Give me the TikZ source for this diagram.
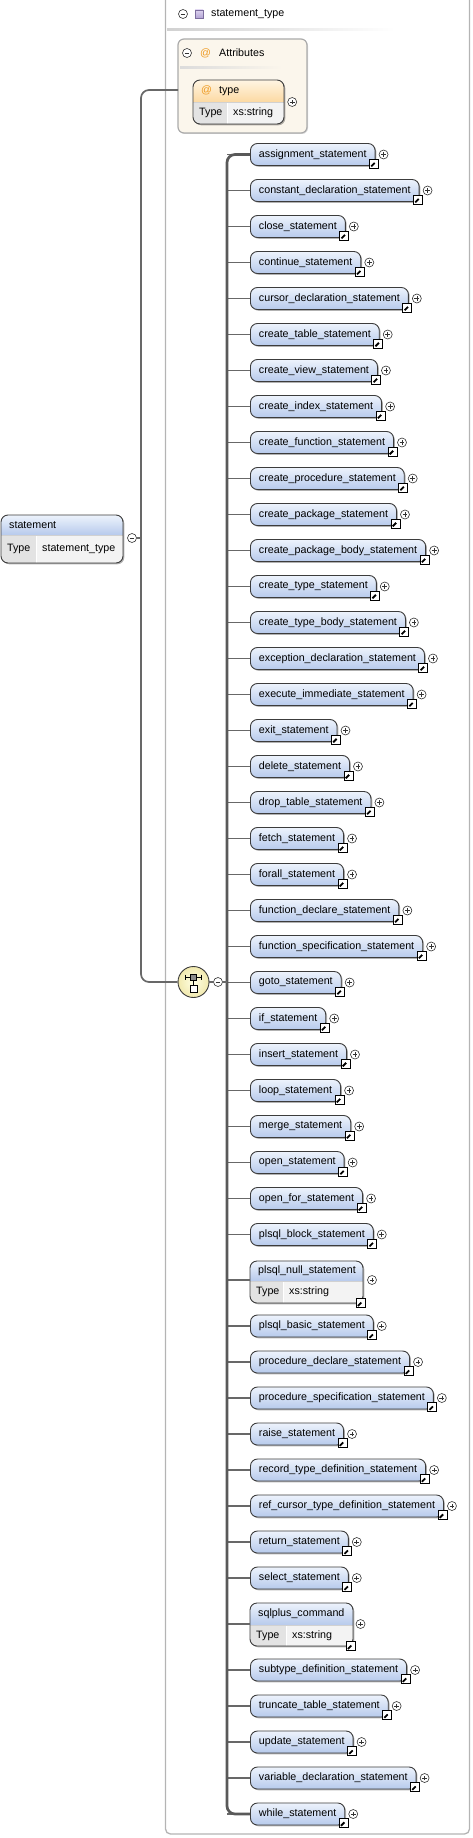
\documentclass[tikz,border=0pt]{standalone}
\usepackage{fontspec}
\setmainfont{Liberation Sans}
\usetikzlibrary{shadows,calc,fit}
\definecolor{elTop}{HTML}{EDF3FC}
\definecolor{elBot}{HTML}{B7CAEC}
\definecolor{edgeC}{HTML}{3C3C3C}
\definecolor{lineC}{HTML}{686868}
\definecolor{barC}{HTML}{595959}
\definecolor{typeCell}{HTML}{E3E3E3}
\definecolor{valCell}{HTML}{F3F3F3}
\definecolor{attrFill}{HTML}{FBF6EC}
\definecolor{attrEdge}{HTML}{ABABAB}
\definecolor{orTop}{HTML}{FFF5E3}
\definecolor{orBot}{HTML}{FCD9A2}
\definecolor{atC}{HTML}{EE9A22}
\definecolor{frameC}{HTML}{B4B4B4}
\definecolor{compIn}{HTML}{FFFFE4}
\definecolor{compOut}{HTML}{F1E9AE}
\definecolor{purTop}{HTML}{DDD3EF}
\definecolor{purBot}{HTML}{B3A4D4}
\definecolor{purEdge}{HTML}{7D6E9E}

\newcommand\dfont{\fontsize{10.7}{12.8}\selectfont}
\newcommand\hdtop{elTop}
\newcommand\hdbot{elBot}

\tikzset{
  elem/.style={anchor=west, draw=edgeC, line width=0.9pt, rounded corners=7pt,
    top color=elTop, bottom color=elBot, minimum height=22pt, inner xsep=8.5pt,
    inner ysep=0pt, drop shadow={shadow xshift=1.3pt, shadow yshift=-1.3pt, fill=black, opacity=0.3}},
  conn/.style={draw=lineC, line width=1.7pt},
  barline/.style={draw=barC, line width=2.7pt},
  pm/.style={circle, draw=black!80, fill=white, minimum size=9pt, inner sep=0pt, line width=0.6pt},
  pmplus/.style={pm, path picture={\draw[line width=0.6pt]
      ([xshift=-2.4pt]path picture bounding box.center) -- ([xshift=2.4pt]path picture bounding box.center)
      ([yshift=-2.4pt]path picture bounding box.center) -- ([yshift=2.4pt]path picture bounding box.center);}},
  pmminus/.style={pm, path picture={\draw[line width=0.6pt]
      ([xshift=-2.4pt]path picture bounding box.center) -- ([xshift=2.4pt]path picture bounding box.center);}},
  shortc/.style={rectangle, draw=black, fill=white, line width=0.9pt, minimum size=9pt, inner sep=0pt,
    path picture={
      \draw[line width=1.8pt] ([shift={(-2.8pt,-2.8pt)}]path picture bounding box.center) -- ([shift={(0.8pt,0.8pt)}]path picture bounding box.center);
      \fill ([shift={(3.2pt,3.2pt)}]path picture bounding box.center) -- ([shift={(-1.6pt,3.2pt)}]path picture bounding box.center) -- ([shift={(3.2pt,-1.6pt)}]path picture bounding box.center) -- cycle;}},
  txt/.style={inner sep=0pt, anchor=west},
}

\newcommand\child[3]{%
  \node[elem] (#1) at (250,#2) {#3};
  \node[pmplus] (#1-p) at ($(#1.east)+(8,0)$) {};
  \node[shortc] (#1-s) at ($(#1.east)+(-1.5,9)$) {};
  \draw[conn] (#1.west) -- (#1.west -| barx);
}

% #1 name, #2 left, #3 right, #4 top, #5 divider y, #6 bottom, #7 divider x, #8 title, #9 value
\newcommand\tworow[9]{%
  \fill[black, opacity=0.3, rounded corners=7pt] (#2+1.3,#4+1.3) rectangle (#3+1.3,#6+1.3);
  \node[fit={(#2,#4) (#3,#6)}, inner sep=0pt] (#1) {};
  \begin{scope}
    \clip[rounded corners=7pt] (#2,#4) rectangle (#3,#6);
    \shade[top color=\hdtop, bottom color=\hdbot] (#2,#4) rectangle (#3,#5);
    \fill[typeCell] (#2,#5) rectangle (#7,#6);
    \fill[valCell] (#7,#5) rectangle (#3,#6);
    \draw[white, line width=0.8pt] (#7,#5) -- (#7,#6);
    \draw[black!18, line width=0.5pt] (#2,#5) -- (#3,#5);
  \end{scope}
  \draw[edgeC, line width=0.9pt, rounded corners=7pt] (#2,#4) rectangle (#3,#6);
  \node[txt] (#1-t) at (#2+8,{(#4+#5)/2}) {#8};
  \node[txt] (#1-k) at (#2+6,{(#5+#6)/2}) {Type};
  \node[txt] (#1-v) at (#7+6,{(#5+#6)/2}) {#9};
}

\begin{document}
\begin{tikzpicture}[x=1pt, y=-1pt, font=\dfont]
\useasboundingbox (0,0) rectangle (472,1838);

% outer frame of statement_type
\draw[frameC, line width=1.3pt, rounded corners=5pt] (165.5,0) -- (165.5,1834) -- (469.5,1834) -- (469.5,0);

% header
\node[pmminus] (hmin) at (183,14) {};
\node[rectangle, minimum size=8pt, inner sep=0pt, draw=purEdge, line width=0.6pt, top color=purTop, bottom color=purBot] (hsq) at (199,14) {};
\node[txt] (htitle) at (211,14) {statement\_type};
\shade[left color=black!18, right color=white] (167,28.3) rectangle (395,30.3);

% attributes box
\node[fit={(178,39) (307,133)}, inner sep=0pt, draw=attrEdge, line width=1.2pt, fill=attrFill, rounded corners=6pt,
  drop shadow={shadow xshift=1pt, shadow yshift=-1pt, fill=black, opacity=0.15}] (attrs) {};
\node[pmminus] (amin) at (187,53) {};
\node[inner sep=0pt, text=atC] (aat) at (205.5,53) {@};
\node[txt] (atitle) at (219,53) {Attributes};
\shade[left color=black!14, right color=attrFill] (180,67) rectangle (282,69);

% type attribute
\renewcommand\hdtop{orTop}\renewcommand\hdbot{orBot}
\tworow{tb}{193}{284}{80}{102}{124}{227}{\textcolor{atC}{@}\hspace{7pt}type}{xs:string}
\node[pmplus] (tb-p) at ($(tb.east)+(8,0)$) {};
\renewcommand\hdtop{elTop}\renewcommand\hdbot{elBot}

% statement element
\tworow{stmt}{1}{123}{515}{535}{563}{36}{statement}{statement\_type}
\node[pmminus] (smin) at (132,538) {};

% compositor
\node[circle, minimum size=31pt, inner sep=0pt, draw=edgeC, line width=0.9pt, inner color=compIn, outer color=compOut] (comp) at (193.5,982) {};
\draw[line width=0.8pt] (185.5,977) -- (201.5,977) (185.5,974.5) -- (185.5,979.5) (201.5,974.5) -- (201.5,979.5);
\draw[line width=0.8pt] (193.5,977) -- (193.5,985.5);
\filldraw[fill=black!45, draw=black, line width=0.6pt] (190.5,974) rectangle (196.5,980);
\filldraw[fill=white, draw=black, line width=0.8pt] (190,985.5) rectangle (197,992.5);
\node[pmminus] (cmin) at (218,982) {};

\coordinate (barx) at (227,0);
\coordinate (attin) at (178,90);
\coordinate (tk1) at (141,90);
\coordinate (tk2) at (141,982);

% children
\child{c1}{154.5}{assignment\_statement}
\child{c2}{190.5}{constant\_declaration\_statement}
\child{c3}{226.5}{close\_statement}
\child{c4}{262.5}{continue\_statement}
\child{c5}{298.5}{cursor\_declaration\_statement}
\child{c6}{334.5}{create\_table\_statement}
\child{c7}{370.5}{create\_view\_statement}
\child{c8}{406.5}{create\_index\_statement}
\child{c9}{442.5}{create\_function\_statement}
\child{c10}{478.5}{create\_procedure\_statement}
\child{c11}{514.5}{create\_package\_statement}
\child{c12}{550.5}{create\_package\_body\_statement}
\child{c13}{586.5}{create\_type\_statement}
\child{c14}{622.5}{create\_type\_body\_statement}
\child{c15}{658.5}{exception\_declaration\_statement}
\child{c16}{694.5}{execute\_immediate\_statement}
\child{c17}{730.5}{exit\_statement}
\child{c18}{766.5}{delete\_statement}
\child{c19}{802.5}{drop\_table\_statement}
\child{c20}{838.5}{fetch\_statement}
\child{c21}{874.5}{forall\_statement}
\child{c22}{910.5}{function\_declare\_statement}
\child{c23}{946.5}{function\_specification\_statement}
\child{c24}{982.5}{goto\_statement}
\child{c25}{1018.5}{if\_statement}
\child{c26}{1054.5}{insert\_statement}
\child{c27}{1090.5}{loop\_statement}
\child{c28}{1126.5}{merge\_statement}
\child{c29}{1162.5}{open\_statement}
\child{c30}{1198.5}{open\_for\_statement}
\child{c31}{1234.5}{plsql\_block\_statement}

\tworow{c32}{250}{363}{1261}{1281}{1303}{283}{plsql\_null\_statement}{xs:string}
\node[pmplus] (c32-p) at (372,1280) {};
\node[shortc] (c32-s) at ($(c32.south east)+(-2.5,0)$) {};
\coordinate (c32in) at (250,1280);
\draw[conn] (c32in) -- (c32in -| barx);

\child{c33}{1326}{plsql\_basic\_statement}
\child{c34}{1362}{procedure\_declare\_statement}
\child{c35}{1398}{procedure\_specification\_statement}
\child{c36}{1434}{raise\_statement}
\child{c37}{1470}{record\_type\_definition\_statement}
\child{c38}{1506}{ref\_cursor\_type\_definition\_statement}
\child{c39}{1542}{return\_statement}
\child{c40}{1578}{select\_statement}

\tworow{c41}{250}{353}{1603}{1625}{1646}{286}{sqlplus\_command}{xs:string}
\node[pmplus] (c41-p) at (360.5,1624) {};
\node[shortc] (c41-s) at ($(c41.south east)+(-2.5,0)$) {};
\coordinate (c41in) at (250,1624);
\draw[conn] (c41in) -- (c41in -| barx);

\child{c42}{1670}{subtype\_definition\_statement}
\child{c43}{1706}{truncate\_table\_statement}
\child{c44}{1742}{update\_statement}
\child{c45}{1778}{variable\_declaration\_statement}
\child{c46}{1814}{while\_statement}

% main bar of the sequence
\draw[barline, rounded corners=8pt] (c1.west) -- (c1.west -| barx) -- (c46.west -| barx) -- (c46.west);

% connectors from statement
\draw[conn, rounded corners=8pt] (attin) -- (tk1) -- (tk2) -- (comp.west);
\draw[conn] (smin.east) -- (smin.east -| tk1);
\draw[conn] (comp.east) -- (cmin.west);
\draw[conn] (cmin.east) -- (cmin.east -| barx);
\end{tikzpicture}
\end{document}
